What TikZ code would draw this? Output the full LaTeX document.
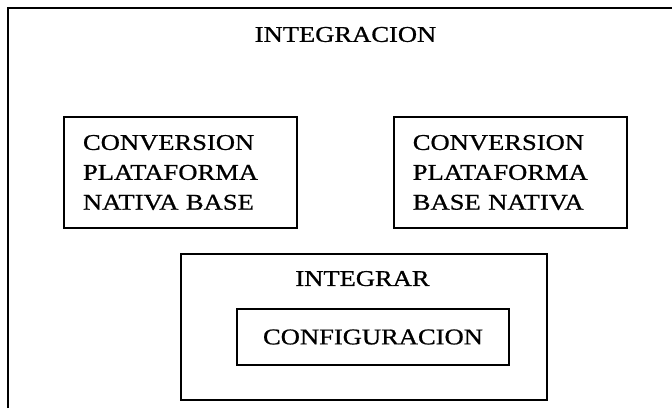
\documentclass[tikz,border=0pt]{standalone}
\usepackage{fontspec}
\setmainfont{Liberation Serif}[FakeStretch=1.18, FakeBold=0.8]
\usetikzlibrary{positioning}

\begin{document}
\begin{tikzpicture}[x=1bp, y=-1bp, line width=1.8bp,
    every node/.style={font=\fontsize{22.6}{30}\selectfont}]
        \useasboundingbox (0,0) rectangle (672,408);

        % Outer frame, cut off at the right and at the bottom
        \draw (8,408) -- (8,8) -- (672,8);
        \node (integracion) at (345.5,34.5) {INTEGRACION};

        % Define the nodes
        \node[draw, rectangle, minimum width=233bp, minimum height=111bp, text width=195bp, inner xsep=19bp, align=left] (nativabase) at (180.5,172.5) {CONVERSION\\PLATAFORMA\\NATIVA BASE};
        \node[draw, rectangle, minimum width=233bp, minimum height=111bp, text width=195bp, inner xsep=19bp, align=left, right=95bp of nativabase] (basenativa) {CONVERSION\\PLATAFORMA\\BASE NATIVA};

        \node[draw, rectangle, minimum width=366bp, minimum height=146bp] (integrar) at (364,327) {};
        \node (integrartxt) at ([xshift=-1.5bp, yshift=-25.5bp]integrar.north) {INTEGRAR};
        \node[draw, rectangle, minimum width=272bp, minimum height=56bp] (configuracion) at (373,337) {CONFIGURACION};
    \end{tikzpicture}
\end{document}
